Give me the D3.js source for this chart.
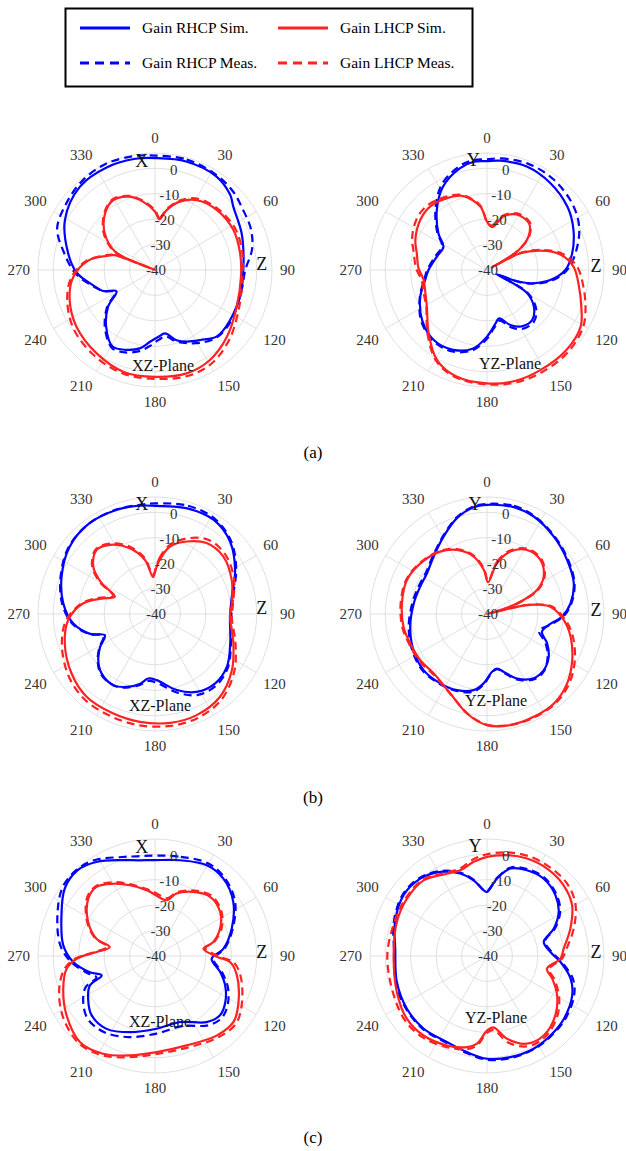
<!DOCTYPE html>
<html><head><meta charset="utf-8">
<script src="https://cdn.jsdelivr.net/npm/d3@7"></script>
<style>body{margin:0;background:#fff}svg{display:block}svg text{font-family:"Liberation Serif","DejaVu Serif",serif}</style>
</head><body>
<svg id="chart" width="626" height="1151"></svg>
<script>
// ---------- tick labels / categories ----------
const angleTicks = [0,30,60,90,120,150,180,210,240,270,300,330];
const radialTicks = [-40,-30,-20,-10,0];
const radialDomain = [-40, 6];
const captions = ["(a)","(b)","(c)"];
const seriesNames = ["Gain RHCP Sim.","Gain RHCP Meas.","Gain LHCP Sim.","Gain LHCP Meas."];

// ---------- data: [angle (deg), gain (dB)] ----------
// (a) XZ
const aXZ_rhcpSim = [[0,4],[16,4.4],[33,4.0],[45,1.8],[51,-0.4],[67,-3.0],[86,-5.1],[105,-5.1],[124,-4.5],[137,-4.3],[147,-7.2],[156,-9.2],[163,-11.1],[171,-14.8],[177,-13.7],[184,-11.7],[191,-8.6],[200,-6.6],[209,-5.6],[221,-10.7],[232,-16.6],[241,-22.7],[248,-18],[256,-15],[268,-9.2],[281,-5.2],[299,0.5],[318,4.1],[335,4.6],[350,4.4]];
const aXZ_rhcpMeas = [[0,5],[16,5.2],[33,4.5],[45,3.5],[55,2],[67,1],[78,-1],[90,-4.5],[105,-5],[124,-4],[137,-4],[147,-6],[156,-8.5],[163,-10.5],[171,-13.5],[177,-12.5],[184,-10],[191,-7.5],[200,-5.5],[209,-5],[221,-10],[232,-16],[241,-22],[248,-18],[256,-14.5],[268,-8.5],[281,-3.5],[293,1.8],[306,3.5],[320,5.2],[335,6],[350,5.5]];
const aXZ_lhcpSim = [[0,-17],[5,-20],[11,-16],[20,-11.4],[31,-8],[46,-6.1],[63,-5.4],[79,-5.9],[94,-6.1],[114,-4.8],[133,-1.4],[149,1.5],[163,2.5],[180,2.0],[197,1.9],[215,0],[234,-1.9],[251,-4.5],[265,-7.7],[278,-13.5],[286,-20],[290,-23],[292,-40],[294.5,-23],[306,-15.6],[319,-10.2],[329,-8.0],[341,-9.5],[350,-12.7]];
const aXZ_lhcpMeas = [[0,-16.5],[5,-19.5],[11,-15.5],[20,-10.8],[31,-7.3],[46,-5.5],[63,-4.5],[79,-5],[94,-5.5],[114,-3.8],[133,0],[149,3],[163,3.6],[180,2.8],[197,2.6],[215,1.3],[234,-0.5],[251,-3.5],[265,-7],[278,-13],[286,-19.5],[290,-22.5],[292,-38],[294.5,-22.5],[306,-15],[319,-9.8],[329,-7.6],[341,-9.2],[350,-12.3]];
// (a) YZ
const aYZ_rhcpSim = [[0,2.8],[7,3.3],[21,3.6],[36,2.3],[52,0.2],[65,-2.5],[79,-5.9],[90,-9.2],[99,-14.8],[107,-22.2],[111,-28.8],[114,-36],[117,-28],[120,-21.8],[128,-16.6],[138,-13.5],[149,-14.1],[157,-16.5],[166,-20.4],[171,-18.7],[180,-13.8],[190,-8.7],[203,-5.9],[217,-5.4],[232,-7.7],[248,-11.7],[261,-15.4],[270,-17],[285,-19.6],[298,-20.6],[307,-16.1],[320,-9.3],[332,-3],[345,1.4],[353,2.9]];
const aYZ_rhcpMeas = [[0,3.5],[7,4.2],[21,4.8],[36,4.2],[52,2.5],[65,0],[79,-4.5],[90,-8.5],[99,-14],[107,-21.5],[111,-28],[114,-34],[117,-27],[120,-21],[128,-15.5],[138,-12.5],[149,-13],[157,-15.5],[166,-19.5],[171,-18],[180,-13],[190,-8],[203,-5.2],[217,-5],[232,-7.2],[248,-11.5],[261,-15],[270,-16.5],[285,-19],[298,-20],[307,-15.5],[320,-8.5],[332,-2],[345,2.2],[353,3.5]];
const aYZ_lhcpSim = [[0,-21],[7,-23],[17,-18],[28,-15.3],[42,-15.3],[51,-19],[57,-24.4],[60,-31],[61.5,-38],[63.4,-25.3],[70,-17.7],[78,-10.5],[88,-5.9],[100,-3.3],[111,-0.3],[121,3.0],[135,4.3],[152,4.6],[166,5],[180,4.6],[196,3.6],[209,0.5],[222.6,-6.1],[238.6,-12.3],[250,-14.2],[261,-14.8],[272,-13],[283,-11.7],[293,-9.4],[307,-7.2],[318,-6.5],[331,-7.7],[342,-9.4],[354,-14.9]];
const aYZ_lhcpMeas = [[0,-21],[7,-22.5],[17,-17.5],[28,-14.8],[42,-14.8],[51,-18.5],[57,-24],[60,-30],[61.5,-36],[63.4,-24.5],[70,-17],[78,-9.5],[88,-4.5],[100,-1.5],[111,1.5],[121,4.0],[135,5.3],[152,5.6],[166,5.6],[180,5],[196,4],[209,1],[222.6,-5.5],[238.6,-12],[250,-13.5],[261,-14],[272,-12],[283,-10.5],[293,-8],[307,-5.7],[318,-5.5],[331,-7],[342,-9],[354,-14.5]];
// (b) XZ
const bXZ_rhcpSim = [[0,2.5],[17,3.4],[32,3.6],[46,1.0],[61,-4.0],[77,-9.0],[92,-10.5],[111,-8.3],[126,-5],[139,-3.9],[152,-5.3],[164,-8.9],[178.6,-14],[186,-14.5],[192,-12],[201,-9.3],[210,-7.6],[222,-8.6],[231,-11.3],[239,-14.8],[247,-18.6],[253,-13.3],[263.5,-7.6],[276.6,-3.7],[292,-0.4],[308,2.7],[324,4],[340,3.6],[352,3]];
const bXZ_rhcpMeas = [[0,3.5],[17,4.5],[32,4.2],[46,1.5],[61,-3.5],[77,-8.5],[92,-10],[111,-8],[126,-4.5],[139,-3],[152,-4],[164,-7.8],[178.6,-13],[186,-13.5],[192,-11.5],[201,-9],[210,-7.5],[222,-8.2],[231,-11],[239,-14.5],[247,-18],[253,-13],[263.5,-7.2],[276.6,-3.2],[292,0],[308,3],[324,4],[340,3.8],[352,3.3]];
const bXZ_lhcpSim = [[1,-22.5],[4.5,-19],[12.6,-12.8],[23.6,-8.9],[36,-5.5],[50,-4.9],[66,-7],[82,-9.5],[92,-10.5],[110.5,-7.1],[126,-2.6],[142,1.4],[157.6,3],[172,3.2],[188,2.8],[203,2.4],[219.6,2.2],[234.5,0.3],[252,-2.7],[266,-5.8],[278.5,-11.5],[286,-18],[293.4,-22.8],[300,-15.8],[307.5,-9.4],[317.6,-5.9],[327,-7.6],[339,-12.3],[349.5,-18.4],[357,-25.5]];
const bXZ_lhcpMeas = [[1,-22],[4.5,-18],[12.6,-12],[23.6,-7.5],[36,-4],[50,-3.8],[66,-6],[82,-9],[92,-9.8],[110.5,-6.2],[126,-1.5],[142,2.6],[157.6,4.2],[172,4.4],[188,4.2],[203,3.8],[219.6,3.5],[234.5,1.8],[252,-1.5],[266,-5],[278.5,-11],[286,-17],[293.4,-22],[300,-15],[307.5,-8.8],[317.6,-5.5],[327,-7],[339,-11.5],[349.5,-17.5],[357,-24.5]];
// (b) YZ
const bYZ_rhcpSim = [[0,2.9],[14,3.3],[25.6,2.5],[40.8,0.2],[56,-2],[70.5,-3.8],[82.7,-6.9],[92,-10.5],[100,-15.3],[108,-17.3],[116,-13.7],[124.7,-10.5],[134.7,-8.6],[144,-8.8],[155,-12],[164,-16.4],[169.6,-18.2],[175,-17.2],[182.8,-12.7],[190,-9.6],[201.5,-7.8],[214,-7.1],[228.5,-6.7],[244,-7.8],[260.6,-9.4],[278,-10.9],[292,-11.6],[304,-11.5],[317,-9.2],[330.7,-5.1],[342.6,-0.5],[352.9,2.3]];
const bYZ_rhcpMeas = [[0,3.3],[14,3.8],[25.6,2.8],[40.8,0.5],[56,-1.6],[70.5,-3.5],[82.7,-6.5],[92,-10],[100,-15],[108,-18.5],[116,-14.5],[124.7,-11],[134.7,-8.3],[144,-8.3],[155,-11.5],[164,-16],[169.6,-18],[175,-17],[182.8,-12.2],[190,-9],[201.5,-7.5],[214,-6.8],[228.5,-6.3],[244,-7.3],[260.6,-8.8],[278,-10.3],[292,-11],[304,-11],[317,-8.8],[330.7,-4.8],[342.6,-0.2],[352.9,2.6]];
const bYZ_lhcpSim = [[2,-27.5],[11,-19.7],[20.5,-13.8],[32,-10.3],[44.6,-10.1],[56.6,-13.3],[64.4,-18.2],[69,-24.6],[73,-32],[75,-40],[77,-25],[80,-19],[83.4,-14.9],[94.5,-9.7],[105,-6],[118.4,-1.9],[131,1.7],[143,3.9],[155.6,4.4],[168,4.6],[180,3.7],[191.4,-0.1],[204.8,-5.6],[222,-8.6],[235,-8.1],[249,-7.7],[261,-6.8],[277,-6.3],[293,-5.8],[307,-7.1],[323,-9.3],[335,-12.2],[347,-16.8],[356,-22.7]];
const bYZ_lhcpMeas = [[2,-27],[11,-19],[20.5,-13.2],[32,-9.8],[44.6,-9.6],[56.6,-12.8],[64.4,-17.5],[69,-24],[73,-31],[75,-38],[77,-24.5],[80,-18.5],[83.4,-14.3],[94.5,-9],[105,-5],[118.4,-0.8],[131,2.5],[143,4.3],[155.6,4.7],[168,4.6],[180,3.6],[191.4,-0.3],[204.8,-5.5],[222,-8.2],[235,-7.6],[249,-7.2],[261,-6.3],[277,-5.8],[293,-5.5],[307,-6.8],[323,-9],[335,-11.8],[347,-16.3],[356,-22]];
// (c) XZ
const cXZ_rhcpSim = [[0,-2.3],[14.6,-1.1],[29.7,1.1],[41.5,0.6],[55.4,-2.6],[70.4,-8],[84,-13],[92.7,-17.7],[103.8,-13.6],[112.7,-10.1],[123,-7],[132.4,-5.4],[142,-7],[159,-12.2],[178.7,-11.4],[198,-8.5],[213.6,-5.6],[227,-5.9],[237.4,-8.8],[245.7,-11.9],[250,-17.7],[256,-13.6],[265.8,-7.8],[276.6,-3.7],[293.5,0.1],[306.8,4.3],[318,5.4],[328,3.6],[341.7,-0.3],[350,-1.8]];
const cXZ_rhcpMeas = [[0,-0.5],[14.6,0.3],[29.7,2],[41.5,1.2],[55.4,-1.8],[70.4,-7.5],[84,-12.5],[92.7,-17],[103.8,-12.8],[112.7,-9],[123,-5.8],[132.4,-4.2],[142,-5.5],[159,-10.5],[178.7,-9.5],[198,-6.5],[213.6,-4],[227,-3.8],[237.4,-6.5],[245.7,-10],[250,-15.5],[256,-12.5],[265.8,-7],[276.6,-2.5],[293.5,1.8],[306.8,5.3],[318,5.8],[328,4.5],[341.7,1],[350,-0.2]];
const cXZ_lhcpSim = [[0,-15.9],[11.8,-17.6],[19,-14],[31,-10.6],[43,-8.2],[56,-9.1],[67,-12.2],[76.5,-16.4],[81.4,-20.7],[90.6,-15.7],[94.6,-10.4],[103,-7],[118.9,-2.5],[130,0.3],[142,-0.4],[160.5,-2.7],[179,-2.2],[194,0.3],[208,3.5],[221,4.9],[236,1.9],[250.4,-1.7],[261.8,-4.9],[268,-9.2],[274,-17],[281,-21.9],[286.5,-16],[297,-10.5],[310.7,-5.4],[319.8,-4.4],[330,-7.2],[340.5,-10.5],[352.8,-13.9]];
const cXZ_lhcpMeas = [[0,-15],[11.8,-16.8],[19,-13.5],[31,-10],[43,-7.5],[56,-8.5],[67,-11.5],[76.5,-16],[81.4,-20],[90.6,-14.5],[94.6,-9],[103,-5.5],[118.9,-1],[130,1.5],[142,0.5],[160.5,-1.8],[179,-1.5],[194,1],[208,4.2],[221,5.5],[236,3.5],[250.4,0],[261.8,-4],[268,-8.5],[274,-16.5],[281,-21],[286.5,-15.5],[297,-10],[310.7,-4.8],[319.8,-4],[330,-6.5],[340.5,-10],[352.8,-13.5]];
// (c) YZ
const cYZ_rhcpSim = [[0,-14.8],[7.4,-9.3],[15,-4.4],[25,-2.8],[36.2,-2.3],[48.4,-4],[58.4,-6.9],[67.7,-11.6],[76,-17],[86.4,-15],[94.7,-11],[105,-6],[114.8,-3.1],[129,-1],[141.4,0],[153.3,0.8],[167,0.8],[180,0.4],[191.8,-1.4],[205,-2.7],[221,-2.1],[236.6,-2.3],[253.9,-3.1],[274.6,-3.8],[290,-1.5],[306,0.6],[319,0.2],[331,-2.2],[342,-5.9],[350,-9.8],[357,-14.1]];
const cYZ_rhcpMeas = [[0,-14.5],[7.4,-9],[15,-4],[25,-2.3],[36.2,-1.8],[48.4,-3.5],[58.4,-6.2],[67.7,-11],[76,-16.5],[86.4,-14.5],[94.7,-10.5],[105,-5],[114.8,-2.3],[129,-0.5],[141.4,0.3],[153.3,1],[167,1.2],[180,0.8],[191.8,-1],[205,-2.3],[221,-1.8],[236.6,-2],[253.9,-2.6],[274.6,-3.3],[290,-1],[306,1],[319,0.6],[331,-1.8],[342,-5.5],[350,-9.5],[357,-14]];
const cYZ_lhcpSim = [[0,-1],[11,0.4],[22.3,1.4],[34.5,1.7],[47.3,1],[59,-1],[71.8,-5.5],[84.5,-9.7],[92,-11.1],[102,-15.9],[109,-12.9],[119.3,-8.4],[131,-4.4],[144.5,-1.6],[155.5,-2.1],[166.4,-6.5],[174.8,-11.8],[180,-10.7],[186.5,-5.3],[192.4,-3.3],[204,-1.5],[218.6,0],[232,0],[248,-1.8],[270,-3.3],[290.7,-2.1],[305.6,-1.3],[320,-1.2],[334,-4],[342.7,-4.7],[352,-2.6]];
const cYZ_lhcpMeas = [[0,0],[11,1.5],[22.3,2.5],[34.5,2.8],[47.3,2.5],[59,0.5],[71.8,-4],[84.5,-8.5],[92,-10.5],[102,-15],[109,-12],[119.3,-7.5],[131,-3.5],[144.5,-0.8],[155.5,-1],[166.4,-5],[174.8,-10.8],[180,-9.8],[186.5,-4.5],[192.4,-2.5],[204,-0.8],[218.6,0.8],[232,1],[248,-0.3],[270,-0.8],[290.7,-1.2],[305.6,-0.8],[320,-0.8],[334,-3.5],[342.7,-4],[352,-1.6]];

// ---------- layout & style ----------
const OUTER_R = 117;
const colors = {rhcp:"#0000ff", lhcp:"#ff2222"};
const styleOf = [
  {color:colors.rhcp, dash:null},
  {color:colors.rhcp, dash:"8,5"},
  {color:colors.lhcp, dash:null},
  {color:colors.lhcp, dash:"8,5"}
];
const panels = [
  {cx:155, cy:270, plane:"XZ-Plane", top:"X", planePos:[163,365], topPos:[141.7,161], zPos:[261.7,264], data:[aXZ_rhcpSim,aXZ_rhcpMeas,aXZ_lhcpSim,aXZ_lhcpMeas]},
  {cx:487, cy:270, plane:"YZ-Plane", top:"Y", planePos:[510,363], topPos:[473.3,159.5], zPos:[596,266], data:[aYZ_rhcpSim,aYZ_rhcpMeas,aYZ_lhcpSim,aYZ_lhcpMeas]},
  {cx:155, cy:614, plane:"XZ-Plane", top:"X", planePos:[160,705], topPos:[141.7,503.5], zPos:[261.7,607.5], data:[bXZ_rhcpSim,bXZ_rhcpMeas,bXZ_lhcpSim,bXZ_lhcpMeas]},
  {cx:487, cy:614, plane:"YZ-Plane", top:"Y", planePos:[496,700], topPos:[475,503.5], zPos:[596,610], data:[bYZ_rhcpSim,bYZ_rhcpMeas,bYZ_lhcpSim,bYZ_lhcpMeas]},
  {cx:155, cy:956, plane:"XZ-Plane", top:"X", planePos:[160,1021], topPos:[141.7,847], zPos:[261.7,952], data:[cXZ_rhcpSim,cXZ_rhcpMeas,cXZ_lhcpSim,cXZ_lhcpMeas]},
  {cx:487, cy:956, plane:"YZ-Plane", top:"Y", planePos:[496,1017], topPos:[475,846], zPos:[596,952], data:[cYZ_rhcpSim,cYZ_rhcpMeas,cYZ_lhcpSim,cYZ_lhcpMeas]}
];
const captionPos = [[313,452],[313,797],[313,1137]];

const svg = d3.select("#chart");
const r = d3.scaleLinear().domain(radialDomain).range([0, OUTER_R]);
const rad = d => d * Math.PI / 180;

// ---------- legend ----------
const lg = svg.append("g");
lg.append("rect").attr("x",65.5).attr("y",8.5).attr("width",407).attr("height",78)
  .attr("fill","#fff").attr("stroke","#000").attr("stroke-width",2);
const legendPos = [[80,28],[80,63],[278,28],[278,63]];
seriesNames.forEach((name,i)=>{
  const [x,y] = legendPos[i];
  lg.append("line").attr("x1",x).attr("x2",x+50).attr("y1",y).attr("y2",y)
    .attr("stroke",styleOf[i].color).attr("stroke-width",2.8)
    .attr("stroke-dasharray",styleOf[i].dash ? "9,6" : null);
  lg.append("text").attr("x",x+62).attr("y",y).attr("dy","0.35em")
    .attr("font-size",15.5).attr("fill","#000").text(name);
});

// ---------- panels ----------
const lineGen = d3.lineRadial()
  .angle(d => rad(d[0]))
  .radius(d => r(d[1]))
  .curve(d3.curveCatmullRomClosed.alpha(0.5));

panels.forEach(p => {
  const g = svg.append("g").attr("transform",`translate(${p.cx},${p.cy})`);
  radialTicks.filter(t => r(t) > 0).concat([radialDomain[1]]).forEach(t => {
    g.append("circle").attr("r", r(t)).attr("fill","none").attr("stroke","#dcdcdc").attr("stroke-width",0.9);
  });
  angleTicks.forEach(a => {
    g.append("line").attr("x1",0).attr("y1",0)
      .attr("x2", OUTER_R*Math.sin(rad(a))).attr("y2", -OUTER_R*Math.cos(rad(a)))
      .attr("stroke","#dcdcdc").attr("stroke-width",0.9);
  });
  p.data.forEach((arr,i) => {
    g.append("path").datum(arr).attr("d", lineGen)
      .attr("fill","none").attr("stroke",styleOf[i].color).attr("stroke-width",2.2)
      .attr("stroke-dasharray",styleOf[i].dash).attr("stroke-linejoin","round");
  });
  radialTicks.forEach(t => {
    const rr = r(t);
    g.append("text").attr("x", rr*Math.sin(rad(10))+1).attr("y", -rr*Math.cos(rad(10)))
      .attr("dy","0.35em").attr("text-anchor","middle")
      .attr("font-size",15).attr("fill","#333").text(t);
  });
  const RL = 125, H = 14;
  angleTicks.forEach(a => {
    const s = Math.sin(rad(a)), c = Math.cos(rad(a));
    const t = g.append("text").attr("text-anchor","middle").attr("dy","0.35em")
      .attr("font-size",15).attr("fill","#333").text(a);
    const w = t.node().getComputedTextLength();
    const sx = Math.abs(s) < 0.01 ? 0 : Math.sign(s);
    const sy = Math.abs(c) < 0.01 ? 0 : Math.sign(c);
    t.attr("x", RL*s + sx*w/2).attr("y", -RL*c - sy*H/2);
  });
});
panels.forEach(p => {
  svg.append("text").attr("x",p.topPos[0]).attr("y",p.topPos[1]).attr("dy","0.35em").attr("text-anchor","middle")
    .attr("font-size",18).attr("fill","#111").text(p.top);
  svg.append("text").attr("x",p.zPos[0]).attr("y",p.zPos[1]).attr("dy","0.35em").attr("text-anchor","middle")
    .attr("font-size",18).attr("fill","#111").text("Z");
  svg.append("text").attr("x",p.planePos[0]).attr("y",p.planePos[1]).attr("dy","0.35em").attr("text-anchor","middle")
    .attr("font-size",16).attr("fill","#111").text(p.plane);
});
captions.forEach((c,i) => {
  svg.append("text").attr("x",captionPos[i][0]).attr("y",captionPos[i][1]).attr("dy","0.35em").attr("text-anchor","middle")
    .attr("font-size",17).attr("fill","#000").text(c);
});
</script>
</body></html>
